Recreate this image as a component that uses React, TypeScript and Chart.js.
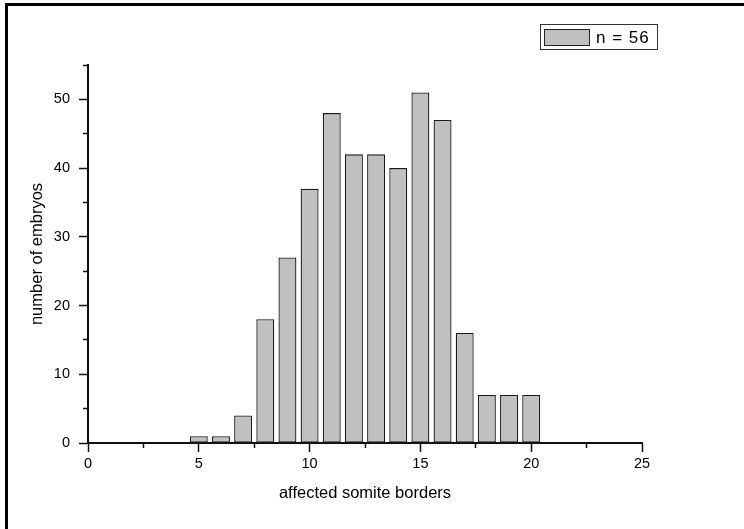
import React, { useEffect, useRef } from "react";
import { Chart, registerables } from "chart.js";

Chart.register(...registerables);

const somiteBorders = [5, 6, 7, 8, 9, 10, 11, 12, 13, 14, 15, 16, 17, 18, 19, 20];
const embryoCounts = [1, 1, 4, 18, 27, 37, 48, 42, 42, 40, 51, 47, 16, 7, 7, 7];
const legendLabel = "n = 56";
const xTitle = "affected somite borders";
const yTitle = "number of embryos";
const xRange = [0, 25];
const xMinorStep = 2.5;
const xLabelStep = 5;
const yRange = [0, 55];
const yMinorStep = 5;
const yLabelStep = 10;

const FONT = "'Liberation Sans', Arial, Helvetica, sans-serif";
const AXIS = "#111111";

const legendBoxPlugin = {
  id: "legendBox",
  afterDraw(chart: any) {
    const ctx = chart.ctx;
    ctx.save();
    ctx.lineWidth = 1;
    ctx.strokeStyle = "#333333";
    ctx.strokeRect(540.5, 24.5, 117, 25);
    ctx.fillStyle = "#c0c0c0";
    ctx.fillRect(544, 29, 45, 16);
    ctx.strokeStyle = "#222222";
    ctx.strokeRect(544.5, 29.5, 45, 16);
    ctx.fillStyle = "#000000";
    ctx.font = `17px ${FONT}`;
    (ctx as any).letterSpacing = "1px";
    ctx.textBaseline = "alphabetic";
    ctx.textAlign = "left";
    ctx.fillText(legendLabel, 596, 43);
    ctx.restore();
  },
};

export default function App() {
  const ref = useRef<HTMLCanvasElement | null>(null);

  useEffect(() => {
    if (!ref.current) return;
    const chart = new Chart(ref.current, {
      type: "bar",
      data: {
        datasets: [
          {
            label: legendLabel,
            data: somiteBorders.map((x, i) => ({ x, y: embryoCounts[i] })),
            backgroundColor: "#c0c0c0",
            borderColor: "#1a1a1a",
            borderWidth: 1.3,
            borderSkipped: false,
            barPercentage: 0.81,
            categoryPercentage: 1.0,
          },
        ],
      },
      options: {
        responsive: false,
        animation: false,
        devicePixelRatio: 1,
        layout: { padding: { top: 65, right: 102, left: 0, bottom: 0 } },
        plugins: {
          legend: { display: false },
          tooltip: { enabled: false },
        },
        scales: {
          x: {
            type: "linear",
            min: xRange[0],
            max: xRange[1],
            offset: false,
            afterFit: (s: any) => {
              s.height = 86;
            },
            grid: {
              display: true,
              drawOnChartArea: false,
              drawTicks: true,
              offset: false,
              tickLength: 9,
              tickWidth: 1.5,
              tickColor: AXIS,
              tickBorderDash: (c: any) =>
                c.tick && Math.abs(c.tick.value % xLabelStep) > 1e-6 ? [4, 100] : [],
            },
            border: { display: true, color: AXIS, width: 2 },
            ticks: {
              stepSize: xMinorStep,
              autoSkip: false,
              maxRotation: 0,
              padding: 3,
              color: "#000000",
              font: { family: FONT, size: 14.5 },
              callback: (v: any) => (Math.abs(Number(v) % xLabelStep) < 1e-6 ? String(v) : ""),
            },
            title: {
              display: true,
              text: xTitle,
              color: "#000000",
              font: { family: FONT, size: 16.5 },
              padding: { top: 0, bottom: 26 },
            },
          },
          y: {
            type: "linear",
            min: yRange[0],
            max: yRange[1],
            afterFit: (s: any) => {
              s.width = 88;
            },
            grid: {
              display: true,
              drawOnChartArea: false,
              drawTicks: true,
              tickLength: 9,
              tickWidth: 1.5,
              tickColor: AXIS,
              tickBorderDash: (c: any) =>
                c.tick && Math.abs(c.tick.value % yLabelStep) > 1e-6 ? [0, 4, 4, 100] : [],
            },
            border: { display: true, color: AXIS, width: 2 },
            ticks: {
              stepSize: yMinorStep,
              autoSkip: false,
              padding: 9,
              color: "#000000",
              font: { family: FONT, size: 14.5 },
              callback: (v: any) => (Math.abs(Number(v) % yLabelStep) < 1e-6 ? String(v) : ""),
            },
            title: {
              display: true,
              text: yTitle,
              color: "#000000",
              font: { family: FONT, size: 16.5 },
              padding: { top: 28, bottom: 0 },
            },
          },
        },
      },
      plugins: [legendBoxPlugin],
    } as any);
    return () => chart.destroy();
  }, []);

  return (
    <div
      style={{
        position: "fixed",
        left: 0,
        top: 0,
        width: 744,
        height: 529,
        background: "#ffffff",
        overflow: "hidden",
      }}
    >
      <canvas ref={ref} width={744} height={529} style={{ display: "block", width: 744, height: 529 }} />
      <div
        style={{
          position: "absolute",
          left: 5,
          top: 3,
          width: 900,
          height: 700,
          borderTop: "3px solid #000",
          borderLeft: "3px solid #000",
          pointerEvents: "none",
        }}
      />
    </div>
  );
}
